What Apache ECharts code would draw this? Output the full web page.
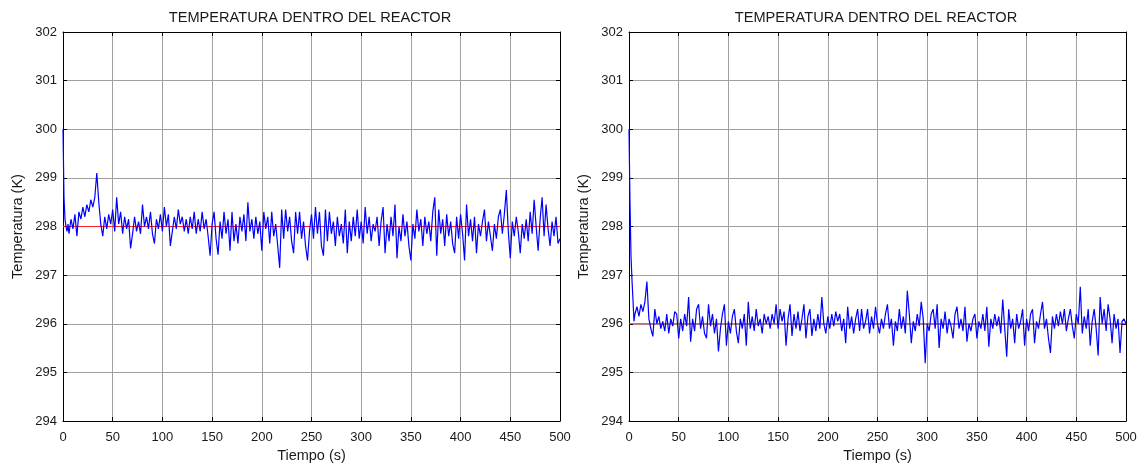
<!DOCTYPE html>
<html>
<head>
<meta charset="utf-8">
<script src="https://cdn.jsdelivr.net/npm/echarts@6/dist/echarts.min.js"></script>
<style>
  html, body { margin: 0; padding: 0; background: #fff; }
  #chart { width: 1140px; height: 465px; }
</style>
</head>
<body>
<div id="chart"></div>
<script>
// Tick values shared by both panels
const ticksTiempo = [0, 50, 100, 150, 200, 250, 300, 350, 400, 450, 500];
const ticksTemp = [294, 295, 296, 297, 298, 299, 300, 301, 302];
const titulo = 'TEMPERATURA DENTRO DEL REACTOR';

// First seconds of the run (1 s spacing), then every 2 s from t = 6 s
const tiempoInicio = [0, 1, 2, 3, 4, 5];
const inicioMalla = 6;
const pasoMalla = 2;

// Left panel: setpoint 298 K
const referenciaIzq = 298;
const inicioIzq = [300.0, 298.6, 298.15, 298.0, 297.9, 298.05];
const temperaturaIzq = [
  297.85, 298.15, 297.95, 298.25, 297.8, 298.3, 298.15, 298.4, 298.2, 298.45, 298.3, 298.55, 298.4, 298.6, 299.1, 298.5, 298.05, 297.8, 298.2, 297.95, 298.25, 298.05,
  298.35, 297.9, 298.6, 298.05, 298.3, 297.85, 298.2, 297.95, 298.15, 297.55, 297.85, 298.2, 297.9, 298.1, 297.85, 298.45, 298.0, 298.2, 297.95, 298.3, 297.85, 297.65, 298.15, 297.95, 298.25,
  297.9, 298.4, 298.0, 298.25, 297.6, 297.9, 298.2, 297.95, 298.35, 298.05, 298.2, 297.9, 298.15, 297.85, 298.2, 297.95, 298.3, 297.85, 298.15, 297.9, 298.3, 297.95, 298.15, 297.8, 297.4,
  298.05, 298.3, 297.75, 297.42, 298.1, 297.75, 298.3, 297.85, 298.15, 297.5, 298.3, 297.7, 298.05, 297.65, 298.2, 297.9, 298.25, 297.7, 298.5, 297.9, 298.15, 297.75, 298.2, 297.85, 298.1,
  297.5, 298.3, 297.95, 298.2, 297.65, 298.3, 297.8, 298.05, 297.6, 297.15, 298.35, 297.75, 298.35, 297.9, 298.2, 297.7, 297.45, 298.3, 297.85, 298.3, 297.75, 298.1, 297.6, 297.3, 297.9,
  298.25, 297.75, 298.4, 297.85, 298.3, 297.6, 297.4, 298.35, 297.7, 298.3, 297.85, 298.1, 297.6, 298.2, 297.8, 298.05, 297.65, 298.35, 297.45, 298.1, 297.7, 298.2, 297.8, 298.35, 297.75,
  298.1, 297.65, 298.4, 297.85, 298.2, 297.7, 298.05, 297.9, 298.2, 297.6, 298.1, 298.4, 297.45, 298.05, 297.7, 298.2, 297.8, 298.45, 297.35, 298.0, 297.7, 298.25, 297.8, 298.1, 297.6,
  297.3, 298.05, 297.75, 298.35, 297.9, 298.15, 297.6, 298.2, 297.85, 298.1, 297.7, 298.3, 298.6, 297.4, 298.35, 297.85, 298.15, 297.6, 298.25, 297.8, 298.1, 297.65, 297.45, 298.2, 297.75,
  298.25, 297.85, 297.3, 298.45, 297.8, 298.15, 297.7, 298.2, 297.45, 298.05, 297.8, 298.1, 298.35, 297.7, 298.1, 297.8, 297.5, 298.05, 297.75, 298.2, 298.35, 297.85, 298.25, 298.75, 297.9,
  297.35, 298.1, 297.8, 298.2, 297.9, 297.45, 298.05, 297.75, 298.15, 297.7, 298.3, 297.85, 298.55, 298.0, 297.5, 298.15, 298.6, 297.8, 298.45, 297.95, 297.6, 298.1, 297.8, 298.2, 297.65,
  297.75
];

// Right panel: setpoint 296 K
const referenciaDer = 296;
const inicioDer = [300.0, 298.5, 297.4, 296.9, 296.5, 296.05];
const temperaturaDer = [
  296.2, 296.35, 296.15, 296.4, 296.25, 296.45, 296.87, 296.1, 295.9, 295.74, 296.3, 296.0, 296.15, 295.9, 296.05, 295.85, 296.2, 295.8, 296.1, 295.95, 296.25, 296.2,
  295.7, 296.1, 295.85, 296.2, 295.95, 296.55, 295.63, 296.1, 295.85, 296.3, 296.4, 295.9, 296.15, 295.8, 295.7, 296.4, 295.95, 296.2, 295.8, 296.1, 295.43, 295.9, 296.2, 296.4, 295.55,
  296.05, 295.8, 296.15, 296.3, 295.85, 295.6, 296.1, 295.9, 296.2, 295.55, 296.45, 295.9, 296.15, 295.85, 296.3, 295.95, 296.1, 295.8, 296.2, 296.0, 296.15, 295.9, 296.2, 296.0, 296.4,
  295.9, 296.3, 296.05, 296.25, 295.55, 296.1, 296.4, 295.75, 296.2, 295.9, 296.25, 295.85, 296.1, 296.4, 295.7, 296.15, 296.3, 295.75, 296.1, 295.85, 296.2, 295.9, 296.55, 296.0, 295.8,
  296.15, 295.9, 296.2, 295.95, 296.25, 296.05, 296.2, 295.85, 296.1, 295.6, 296.35, 295.9, 296.15, 295.8, 296.1, 296.3, 295.85, 296.3, 295.9, 296.05, 296.3, 295.8, 296.15, 295.9, 296.35,
  296.0, 295.8, 296.1, 295.9, 296.2, 296.4, 295.9, 296.1, 295.55, 296.05, 295.85, 296.3, 295.9, 296.15, 295.8, 296.68, 296.2, 295.6, 296.05, 295.85, 296.2, 295.95, 296.45, 296.1, 295.19,
  296.0, 295.85, 296.2, 296.3, 295.9, 296.4, 295.5, 296.1, 295.9, 296.25, 295.8, 296.1, 295.95, 295.7, 296.2, 296.35, 295.9, 296.1, 295.85, 296.35, 295.63, 296.0, 295.85, 296.1, 296.2,
  295.7, 296.05, 295.9, 296.2, 295.85, 296.35, 295.53, 296.1, 295.9, 296.2, 295.95, 296.15, 295.8, 296.5, 295.9, 295.32, 296.3, 295.9, 296.1, 295.6, 296.2, 295.9, 296.05, 296.3, 295.55,
  296.1, 295.85, 296.2, 296.3, 295.6, 296.05, 295.9, 296.2, 296.45, 295.9, 296.1, 295.7, 295.4, 296.15, 295.9, 296.2, 295.95, 296.25, 296.0, 296.3, 295.85, 296.1, 296.3, 295.95, 295.7,
  296.2, 296.0, 296.76, 295.8, 296.15, 295.9, 296.3, 295.55, 296.05, 296.3, 295.9, 295.35, 296.55, 296.0, 296.3, 295.85, 296.4, 296.1, 295.6, 296.2, 295.9, 296.1, 295.4, 296.05, 296.1,
  296.0
];

// Pair the readings with their sample times
function puntos(inicio, valores) {
  const pts = inicio.map((v, i) => [tiempoInicio[i], v]);
  valores.forEach((v, i) => pts.push([inicioMalla + pasoMalla * i, v]));
  return pts;
}
function recta(valor) {
  return [[ticksTiempo[0], valor], [ticksTiempo[ticksTiempo.length - 1], valor]];
}

const fuente = 'Liberation Sans, Arial, sans-serif';
const colorTexto = '#1a1a1a';
const grids = [
  { left: 63, top: 32, width: 497, height: 389, outerBoundsMode: 'none', containLabel: false },
  { left: 629, top: 32, width: 497, height: 389, outerBoundsMode: 'none', containLabel: false }
];

function ejeX(gridIndex, position, main) {
  return {
    type: 'value', gridIndex, position,
    min: ticksTiempo[0], max: ticksTiempo[ticksTiempo.length - 1], interval: 50,
    name: main ? 'Tiempo (s)' : '',
    nameLocation: 'middle', nameGap: 27,
    nameTextStyle: { fontFamily: fuente, fontSize: 14.5, color: colorTexto },
    axisLine: { show: true, onZero: false, lineStyle: { color: '#000', width: 1 } },
    axisTick: { show: true, inside: true, length: 4, lineStyle: { color: '#000' } },
    axisLabel: { show: main, margin: 10, fontFamily: fuente, fontSize: 13, color: colorTexto },
    splitLine: { show: main, lineStyle: { color: '#a0a0a0', width: 1 } }
  };
}
function ejeY(gridIndex, position, main) {
  return {
    type: 'value', gridIndex, position,
    min: ticksTemp[0], max: ticksTemp[ticksTemp.length - 1], interval: 1,
    name: main ? 'Temperatura (K)' : '',
    nameLocation: 'middle', nameGap: 38, nameRotate: 90,
    nameTextStyle: { fontFamily: fuente, fontSize: 14.5, color: colorTexto },
    axisLine: { show: true, onZero: false, lineStyle: { color: '#000', width: 1 } },
    axisTick: { show: true, inside: true, length: 4, lineStyle: { color: '#000' } },
    axisLabel: { show: main, margin: 6, fontFamily: fuente, fontSize: 13, color: colorTexto },
    splitLine: { show: main, lineStyle: { color: '#a0a0a0', width: 1 } }
  };
}

const lineaAzul = { color: '#0000ff', width: 1.2 };
const lineaRoja = { color: '#ff2020', width: 1 };
const estiloTitulo = { fontFamily: fuente, fontSize: 14.6, fontWeight: 'normal', color: colorTexto };

const chart = echarts.init(document.getElementById('chart'), null, { renderer: 'canvas' });
chart.setOption({
  animation: false,
  backgroundColor: '#fff',
  title: [
    { text: titulo, left: 305, top: 5, textAlign: 'center', textStyle: estiloTitulo },
    { text: titulo, left: 871, top: 5, textAlign: 'center', textStyle: estiloTitulo }
  ],
  grid: grids,
  xAxis: [ejeX(0, 'bottom', true), ejeX(1, 'bottom', true), ejeX(0, 'top', false), ejeX(1, 'top', false)],
  yAxis: [ejeY(0, 'left', true), ejeY(1, 'left', true), ejeY(0, 'right', false), ejeY(1, 'right', false)],
  series: [
    { type: 'line', xAxisIndex: 0, yAxisIndex: 0, data: recta(referenciaIzq),
      showSymbol: false, lineStyle: lineaRoja, z: 2 },
    { type: 'line', xAxisIndex: 0, yAxisIndex: 0, data: puntos(inicioIzq, temperaturaIzq),
      showSymbol: false, sampling: 'none', lineStyle: lineaAzul, z: 3 },
    { type: 'line', xAxisIndex: 1, yAxisIndex: 1, data: recta(referenciaDer),
      showSymbol: false, lineStyle: lineaRoja, z: 2 },
    { type: 'line', xAxisIndex: 1, yAxisIndex: 1, data: puntos(inicioDer, temperaturaDer),
      showSymbol: false, sampling: 'none', lineStyle: lineaAzul, z: 3 }
  ]
});
</script>
</body>
</html>
